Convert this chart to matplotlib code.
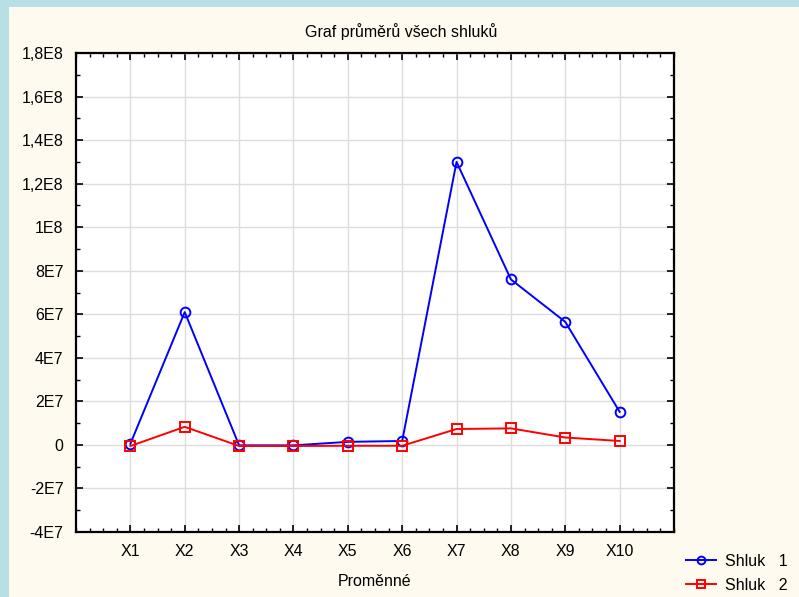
import matplotlib
matplotlib.use("Agg")
import matplotlib.pyplot as plt
from matplotlib.patches import Rectangle
from matplotlib.ticker import FixedLocator, FixedFormatter, MultipleLocator

categories = ["X1", "X2", "X3", "X4", "X5", "X6", "X7", "X8", "X9", "X10"]
shluk1 = [0.05e7, 6.1e7, -0.02e7, -0.02e7, 0.14e7, 0.18e7, 1.30e8, 7.6e7, 5.65e7, 1.52e7]
shluk2 = [-0.05e7, 0.83e7, -0.05e7, -0.05e7, -0.04e7, -0.04e7, 0.73e7, 0.76e7, 0.34e7, 0.18e7]
ytick_values = [-4e7, -2e7, 0, 2e7, 4e7, 6e7, 8e7, 1e8, 1.2e8, 1.4e8, 1.6e8, 1.8e8]
ytick_labels = ["-4E7", "-2E7", "0", "2E7", "4E7", "6E7", "8E7", "1E8", "1,2E8", "1,4E8", "1,6E8", "1,8E8"]
series_names = ["Shluk   1", "Shluk   2"]
title = "Graf průměrů všech shluků"
xlabel = "Proměnné"

plt.rcParams['font.family'] = ['Liberation Sans', 'DejaVu Sans']

W, H = 799, 597
fig = plt.figure(figsize=(W / 100, H / 100), dpi=100)
fig.patch.set_facecolor("#B8DFE3")
fig.patches.append(Rectangle((9 / W, 0), 1 - 9 / W, 1 - 7 / H, transform=fig.transFigure,
                             facecolor="#FFFAEF", edgecolor="none", zorder=-5))

left, right, top, bottom = 76, 674, 53, 532
ax = fig.add_axes([left / W, 1 - bottom / H, (right - left) / W, (bottom - top) / H])
ax.set_zorder(2)
ax.set_facecolor("white")

x = list(range(1, len(categories) + 1))
ax.plot(x, shluk1, color="#0000FF", lw=1.4, marker="o", ms=7, mfc="none", mew=1.4,
        label=series_names[0], zorder=3)
ax.plot(x, shluk2, color="#FF0000", lw=1.4, marker="s", ms=7, mfc="none", mew=1.4,
        label=series_names[1], zorder=3)

ax.set_xlim(0, len(categories) + 1)
ax.set_ylim(-4e7, 1.8e8)
ax.xaxis.set_major_locator(FixedLocator(x))
ax.xaxis.set_major_formatter(FixedFormatter(categories))
ax.xaxis.set_minor_locator(MultipleLocator(0.25))
ax.yaxis.set_major_locator(FixedLocator(ytick_values))
ax.yaxis.set_major_formatter(FixedFormatter(ytick_labels))
ax.yaxis.set_minor_locator(MultipleLocator(1e7))

ax.grid(True, which="major", color="#DCDCDC", lw=1.0, zorder=0)
ax.set_axisbelow(True)
ax.tick_params(which="both", direction="in", top=True, right=True, color="black")
ax.tick_params(which="major", length=5, width=1.2, labelsize=11.5, pad=9)
ax.tick_params(which="minor", length=3, width=1.0)
for s in ax.spines.values():
    s.set_linewidth(1.6)
    s.set_color("black")

fig.text(401 / W, 1 - 32 / H, title, ha="center", va="center", fontsize=11.5)
fig.text((left + right) / 2 / W, 1 - 581 / H, xlabel, ha="center", va="center", fontsize=11.5)

fig.legend(loc="upper left", bbox_to_anchor=(686 / W, 1 - 554 / H), frameon=False,
           fontsize=11.5, handlelength=1.9, handletextpad=0.55, labelspacing=0.55,
           markerscale=0.8, borderaxespad=0, borderpad=0)

fig.savefig("out.png", dpi=100, facecolor=fig.get_facecolor())
